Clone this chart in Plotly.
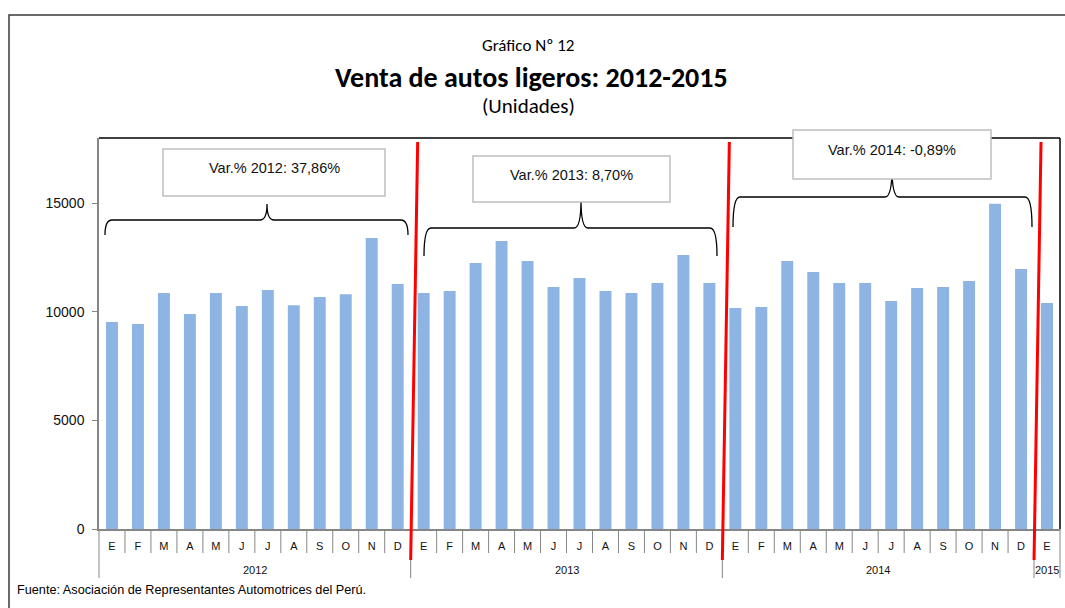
import plotly.graph_objects as go

# ---------------- data ----------------
months = ["E", "F", "M", "A", "M", "J", "J", "A", "S", "O", "N", "D"]
years = ["2012", "2013", "2014", "2015"]
sales_2012 = [9526, 9434, 10864, 9895, 10864, 10264, 11002, 10295, 10679, 10803, 13400, 11279]
sales_2013 = [10864, 10956, 12247, 13262, 12339, 11140, 11555, 10956, 10864, 11325, 12616, 11325]
sales_2014 = [10171, 10218, 12339, 11832, 11325, 11325, 10494, 11094, 11140, 11417, 14969, 11970]
sales_2015 = [10402]
var_labels = ["Var.% 2012: 37,86%", "Var.% 2013: 8,70%", "Var.% 2014: -0,89%"]
y_ticks = [0, 5000, 10000, 15000]
y_ticktext = ["0", "5000", "10000", "15000"]

series = [sales_2012, sales_2013, sales_2014, sales_2015]
values = [v for s in series for v in s]
cat_month = [months[i] for s in series for i in range(len(s))]
group_sizes = [len(s) for s in series]
n = len(values)
x_idx = list(range(n))

# ---------------- geometry helpers ----------------
W, H = 1065, 608
L, R, T, B = 99, 5, 138, 79
PW, PH = W - L - R, H - T - B


def px(x):
    return (x - L) / PW


def py(y):
    return (H - B - y) / PH


ARIAL = "Liberation Sans, Arial, sans-serif"
CALIBRI = "Carlito, Lato, sans-serif"
GREY = "#868686"

fig = go.Figure()
fig.add_trace(go.Bar(x=x_idx, y=values, width=0.46,
                     marker=dict(color="#8EB4E3", line=dict(width=0)),
                     hoverinfo="y", showlegend=False))

shapes = []
# outer frame
shapes.append(dict(type="rect", xref="paper", yref="paper",
                   x0=px(9), x1=px(1080), y0=py(625), y1=py(15),
                   line=dict(color="#3a3a3a", width=1.5)))
# plot area top / right border
shapes.append(dict(type="line", xref="paper", yref="paper", x0=0, x1=1, y0=1, y1=1,
                   line=dict(color="#000000", width=1.5)))
shapes.append(dict(type="line", xref="paper", yref="paper", x0=1, x1=1, y0=0, y1=1,
                   line=dict(color="#000000", width=1.5)))

# category separators
year_bounds = [0]
for g in group_sizes:
    year_bounds.append(year_bounds[-1] + g)
for k in range(n + 1):
    if k in year_bounds:
        y_end = py(578)
    else:
        y_end = py(553)
    shapes.append(dict(type="line", xref="paper", yref="paper", x0=k / n, x1=k / n,
                       y0=0, y1=y_end, line=dict(color=GREY, width=1)))


# braces
def brace(xl, xr, xc, ybot, yline, ytop, r=7):
    pts = [
        ("M", xl, ybot),
        ("Q", xl, yline, xl + r, yline),
        ("L", xc - r, yline),
        ("Q", xc, yline, xc, ytop),
        ("Q", xc, yline, xc + r, yline),
        ("L", xr - r, yline),
        ("Q", xr, yline, xr, ybot),
    ]
    out = []
    for p in pts:
        cmd = p[0]
        coords = p[1:]
        s = []
        for i in range(0, len(coords), 2):
            s.append(f"{px(coords[i]):.5f},{py(coords[i + 1]):.5f}")
        out.append(cmd + " " + " ".join(s))
    return " ".join(out)


braces = [
    (105, 408, 267, 235, 220, 204),
    (424, 717, 581, 256, 228, 200),
    (733, 1032, 892, 227, 197, 168),
]
for b in braces:
    shapes.append(dict(type="path", xref="paper", yref="paper", path=brace(*b),
                       line=dict(color="#000000", width=1.3)))

# text boxes
boxes = [
    (163, 385, 149, 196, 168),
    (473, 670, 156, 202, 175),
    (793, 991, 130, 179, 150),
]
for (x0, x1, y0, y1, yt) in boxes:
    shapes.append(dict(type="rect", xref="paper", yref="paper",
                       x0=px(x0), x1=px(x1), y0=py(y1), y1=py(y0),
                       fillcolor="white", line=dict(color="#BFBFBF", width=1.5)))

# red separators (slanted)
for k in year_bounds[1:4]:
    shapes.append(dict(type="line", xref="paper", yref="paper",
                       x0=k / n, y0=py(560), x1=k / n + 7 / PW, y1=py(142),
                       line=dict(color="#FF0000", width=3)))

annotations = []


def label(text, x, y, size, family, xref="paper", xanchor="center", color="#000"):
    return dict(text=text, xref=xref, yref="paper", x=x, y=y, xanchor=xanchor,
                yanchor="middle", showarrow=False,
                font=dict(family=family, size=size, color=color))


# titles
annotations.append(label("Gráfico Nº 12", px(528), py(45), 17, CALIBRI))
annotations.append(label("<b>Venta de autos ligeros: 2012-2015</b>", px(531), py(77), 28, CALIBRI))
annotations.append(label("(Unidades)", px(528), py(106), 21, CALIBRI))
# var labels
for (x0, x1, y0, y1, yt), txt in zip(boxes, var_labels):
    annotations.append(label(txt, px((x0 + x1) / 2), py(yt), 14.5, ARIAL, color="#111"))
# year labels
start = 0
for yr, g in zip(years, group_sizes):
    annotations.append(label(yr, start + (g - 1) / 2, py(570), 11, ARIAL, xref="x", color="#111"))
    start += g
# source
annotations.append(label("Fuente: Asociación de Representantes Automotrices del Perú.",
                         px(15), py(590), 12.7, ARIAL, xanchor="left"))

fig.update_layout(
    width=W, height=H, autosize=False,
    margin=dict(l=L, r=R, t=T, b=B, pad=0),
    paper_bgcolor="white", plot_bgcolor="white",
    shapes=shapes, annotations=annotations,
    xaxis=dict(range=[-0.5, n - 0.5], tickmode="array", tickvals=x_idx, ticktext=cat_month,
               ticks="", showgrid=False, zeroline=False, showline=True,
               linecolor=GREY, linewidth=1.5, ticklabelstandoff=6,
               tickfont=dict(family=ARIAL, size=11, color="#111"), fixedrange=True),
    yaxis=dict(range=[0, 18000], tickmode="array", tickvals=y_ticks, ticktext=y_ticktext,
               ticks="outside", ticklen=5, ticklabelstandoff=5,
               tickcolor=GREY, showgrid=False, zeroline=False, showline=True,
               linecolor=GREY, linewidth=1.5,
               tickfont=dict(family=ARIAL, size=14, color="#111"), fixedrange=True),
)

fig.write_html("out.html", config={"displayModeBar": False},
               post_script="document.body.style.margin='0';")
